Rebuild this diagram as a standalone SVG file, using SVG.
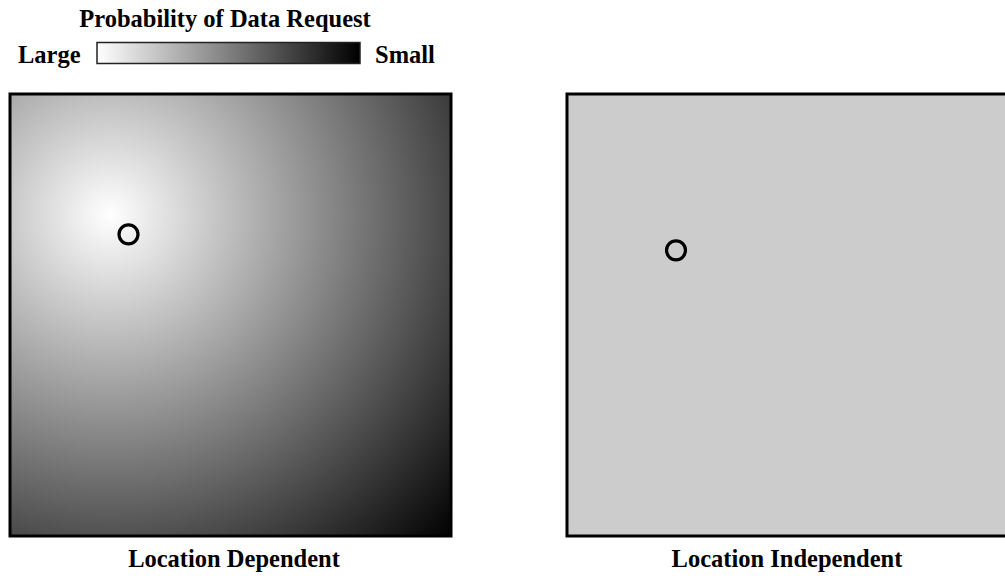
<svg xmlns="http://www.w3.org/2000/svg" width="1005" height="579" viewBox="0 0 1005 579">
<defs>
<style>
text{font-family:"Liberation Serif","Times New Roman",serif;font-weight:bold;fill:#000;font-size:24.5px}
.box{stroke:#000;stroke-width:3}
.dot{fill:none;stroke:#000;stroke-width:3.2}
</style>
<linearGradient id="bar" x1="0" y1="0" x2="1" y2="0">
<stop offset="0" stop-color="#fff"/>
<stop offset="1" stop-color="#000"/>
</linearGradient>
<radialGradient id="rad" gradientUnits="userSpaceOnUse" cx="110" cy="215" r="470">
<stop offset="0" stop-color="#fff"/>
<stop offset="1" stop-color="#000"/>
</radialGradient>
</defs>
<g id="legend">
<text x="225" y="27" text-anchor="middle">Probability of Data Request</text>
<text x="18" y="63">Large</text>
<rect x="97" y="42.5" width="263" height="21" fill="url(#bar)" stroke="#222" stroke-width="1.5"/>
<text x="375" y="63">Small</text>
</g>
<g id="dependent">
<rect class="box" x="10" y="94" width="441" height="442" fill="url(#rad)"/>
<circle class="dot" cx="128.5" cy="234.3" r="9.5"/>
<text x="234" y="567" text-anchor="middle">Location Dependent</text>
</g>
<g id="independent">
<rect class="box" x="567" y="94" width="445" height="442" fill="#ccc"/>
<circle class="dot" cx="676" cy="250.3" r="9.5"/>
<text x="787" y="567" text-anchor="middle">Location Independent</text>
</g>
</svg>
